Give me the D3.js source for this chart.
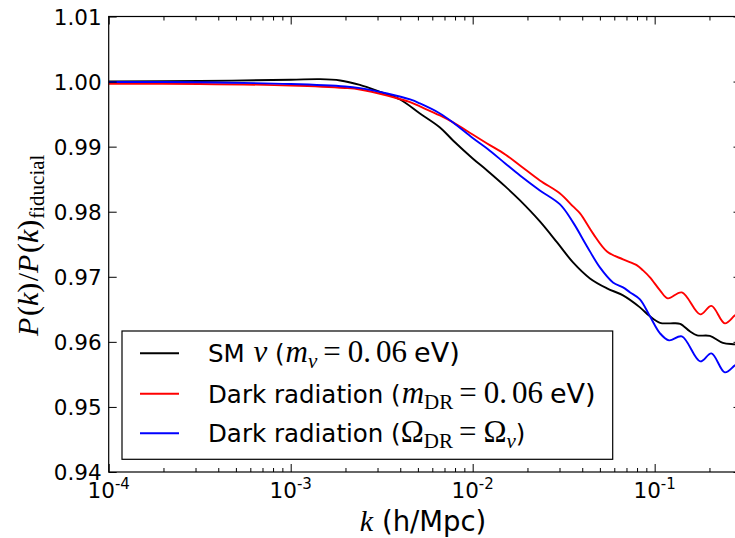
<!DOCTYPE html>
<html><head><meta charset="utf-8">
<script src="https://cdn.jsdelivr.net/npm/d3@7"></script>
<style>body{margin:0;background:#fff}svg{display:block}</style>
</head><body><svg id="c" width="735" height="538"></svg>
<script>
// ---- data ----
const kBlack = [1e-4, 3.16e-4, 1.00e-3, 1.45e-3, 1.87e-3, 2.40e-3, 3.10e-3, 3.99e-3, 5.13e-3, 6.61e-3, 7.80e-3, 1.00e-2, 1.20e-2, 1.51e-2, 1.82e-2, 2.34e-2, 2.91e-2, 3.56e-2, 4.41e-2, 5.47e-2, 6.70e-2, 8.30e-2, 9.42e-2, 0.107, 0.121, 0.138, 0.156, 0.171, 0.201, 0.237, 0.276, 0.298];
const ratioBlack = [1.00000, 1.00009, 1.00028, 1.00037, 1.00017, 0.99948, 0.99840, 0.99725, 0.99510, 0.99295, 0.99095, 0.98819, 0.98634, 0.98389, 0.98174, 0.97851, 0.97528, 0.97221, 0.96975, 0.96822, 0.96714, 0.96530, 0.96392, 0.96292, 0.96284, 0.96277, 0.96162, 0.96100, 0.96092, 0.95985, 0.95962, 0.95946];

const kRed = [1e-4, 3.16e-4, 1.00e-3, 1.99e-3, 2.40e-3, 3.39e-3, 4.53e-3, 5.13e-3, 6.61e-3, 7.80e-3, 1.00e-2, 1.20e-2, 1.51e-2, 1.82e-2, 2.34e-2, 3.02e-2, 3.56e-2, 3.89e-2, 4.58e-2, 5.47e-2, 6.70e-2, 8.00e-2, 8.63e-2, 9.42e-2, 0.107, 0.118, 0.141, 0.178, 0.205, 0.243, 0.276, 0.298];
const ratioRed = [0.99966, 0.99963, 0.99940, 0.99902, 0.99879, 0.99786, 0.99684, 0.99618, 0.99479, 0.99372, 0.99187, 0.99049, 0.98880, 0.98711, 0.98481, 0.98281, 0.98081, 0.97974, 0.97667, 0.97390, 0.97267, 0.97175, 0.97098, 0.96991, 0.96791, 0.96668, 0.96760, 0.96422, 0.96553, 0.96284, 0.96407, 0.96469];

const kBlue = [1e-4, 3.16e-4, 1.00e-3, 1.99e-3, 2.40e-3, 3.39e-3, 4.53e-3, 5.13e-3, 6.61e-3, 7.80e-3, 1.00e-2, 1.20e-2, 1.51e-2, 1.82e-2, 2.34e-2, 3.02e-2, 3.56e-2, 4.25e-2, 5.00e-2, 5.90e-2, 6.70e-2, 7.33e-2, 8.30e-2, 9.42e-2, 0.107, 0.120, 0.141, 0.178, 0.205, 0.243, 0.276, 0.298];
const ratioBlue = [0.99994, 0.99989, 0.99963, 0.99925, 0.99899, 0.99817, 0.99725, 0.99664, 0.99510, 0.99372, 0.99133, 0.98972, 0.98742, 0.98557, 0.98327, 0.98112, 0.97836, 0.97467, 0.97144, 0.96914, 0.96837, 0.96760, 0.96653, 0.96392, 0.96131, 0.96023, 0.96084, 0.95700, 0.95823, 0.95531, 0.95639, 0.95700];

const yTicks = [0.94, 0.95, 0.96, 0.97, 0.98, 0.99, 1.00, 1.01];
const yTickLabels = ["0.94", "0.95", "0.96", "0.97", "0.98", "0.99", "1.00", "1.01"];
const xTicks = [1e-4, 1e-3, 1e-2, 1e-1];
const xTickBase = ["10", "10", "10", "10"];
const xTickExp = ["-4", "-3", "-2", "-1"];
const xMinorTicks = [2e-4,3e-4,4e-4,5e-4,6e-4,7e-4,8e-4,9e-4,2e-3,3e-3,4e-3,5e-3,6e-3,7e-3,8e-3,9e-3,2e-2,3e-2,4e-2,5e-2,6e-2,7e-2,8e-2,9e-2,2e-1,3e-1];

const seriesColors = ["#000000", "#ff0000", "#0000ff"];
// legend labels: [text, kind]
const legendSegs = [
  [["SM ", "sans"], ["ν", "it"], [" (", "sans"], ["m", "it"], ["ν", "itsub"], ["=", "rel"], ["0.", "rm"], ["06", "rmgap"], ["eV)", "unit"]],
  [["Dark radiation (", "sans"], ["m", "it"], ["DR", "sub"], ["=", "rel"], ["0.", "rm"], ["06", "rmgap"], ["eV)", "unit"]],
  [["Dark radiation (", "sans"], ["Ω", "rmfirst"], ["DR", "sub"], ["=", "rel"], ["Ω", "rm"], ["ν", "itsub"], [")", "sans"]]
];

// ---- drawing ----
const SANS = "'DejaVu Sans', sans-serif";
const SERIF = "'Liberation Serif', 'DejaVu Serif', serif";
const svg = d3.select("#c");
const L = 108.7, R = 741.5, T = 16.5, B = 472;
const x = d3.scaleLog().domain([1e-4, 0.3]).range([L, R]);
const y = d3.scaleLinear().domain([0.94, 1.01]).range([B, T]);

svg.append("defs").append("clipPath").attr("id", "clip")
  .append("rect").attr("x", L).attr("y", T).attr("width", R - L).attr("height", B - T);

const series = [
  {k: kBlack, v: ratioBlack, color: seriesColors[0]},
  {k: kRed, v: ratioRed, color: seriesColors[1]},
  {k: kBlue, v: ratioBlue, color: seriesColors[2]}
];
const line = d3.line().x(d => x(d[0])).y(d => y(d[1])).curve(d3.curveCatmullRom.alpha(0.5));
const gLines = svg.append("g").attr("clip-path", "url(#clip)");
series.forEach(s => {
  gLines.append("path").datum(s.k.map((k, j) => [k, s.v[j]]))
    .attr("d", line).attr("fill", "none").attr("stroke", s.color).attr("stroke-width", 1.9);
});

// axes
function styleAxis(g) {
  g.select(".domain").remove();
  g.selectAll("line").attr("stroke", "#000").attr("stroke-width", 1);
}
svg.append("g").attr("transform", `translate(${L},0)`)
  .call(d3.axisLeft(y).tickValues(yTicks).tickFormat((d, i) => yTickLabels[i]).tickSize(-8).tickPadding(7))
  .call(styleAxis)
  .call(g => g.selectAll("text").attr("font-family", SANS).attr("font-size", 21.5).attr("fill", "#000").attr("dy", "0.36em"));
svg.append("g").attr("transform", `translate(${R},0)`)
  .call(d3.axisRight(y).tickValues(yTicks).tickFormat("").tickSize(-8))
  .call(styleAxis);
svg.append("g").attr("transform", `translate(0,${B})`)
  .call(d3.axisBottom(x).tickValues(xTicks).tickFormat("").tickSize(-8))
  .call(styleAxis);
svg.append("g").attr("transform", `translate(0,${B})`)
  .call(d3.axisBottom(x).tickValues(xMinorTicks).tickFormat("").tickSize(-4))
  .call(styleAxis);
svg.append("g").attr("transform", `translate(0,${T})`)
  .call(d3.axisTop(x).tickValues(xTicks).tickFormat("").tickSize(-8))
  .call(styleAxis);
svg.append("g").attr("transform", `translate(0,${T})`)
  .call(d3.axisTop(x).tickValues(xMinorTicks).tickFormat("").tickSize(-4))
  .call(styleAxis);

// x tick labels with superscripts
const xl = svg.append("g");
xTicks.forEach((t, i) => {
  const txt = xl.append("text").attr("x", x(t)).attr("y", B + 26)
    .attr("text-anchor", "middle").attr("font-family", SANS).attr("font-size", 21.5).attr("fill", "#000");
  txt.append("tspan").text(xTickBase[i]);
  txt.append("tspan").attr("font-size", 15).attr("dy", -9).text(xTickExp[i]);
});

// frame
svg.append("rect").attr("x", L).attr("y", T).attr("width", R - L).attr("height", B - T)
  .attr("fill", "none").attr("stroke", "#000").attr("stroke-width", 1.2);

// x label
const xlab = svg.append("text").attr("x", (L + R) / 2 - 2).attr("y", 531).attr("text-anchor", "middle").attr("fill", "#000");
xlab.append("tspan").attr("font-family", SERIF).attr("font-style", "italic").attr("font-size", 30).text("k");
xlab.append("tspan").attr("font-family", SANS).attr("font-size", 27.5).text(" (h/Mpc)");

// y label
const ylab = svg.append("text").attr("transform", `translate(38,${(T + B) / 2 + 1}) rotate(-90)`)
  .attr("text-anchor", "middle").attr("font-family", SERIF).attr("font-size", 30).attr("fill", "#000");
[["P", 1], ["(", 0], ["k", 1], [")", 0], ["/", 0], ["P", 1], ["(", 0], ["k", 1], [")", 0]].forEach(([s, it]) => {
  const sp = ylab.append("tspan").text(s);
  if (it) sp.attr("font-style", "italic");
  if (s === "/" || s === "(") sp.attr("dx", 1.5);
});
ylab.append("tspan").attr("font-size", 21).attr("dy", 6).attr("dx", 1).text("fiducial");

// legend
const lg = svg.append("g");
lg.append("rect").attr("x", 122).attr("y", 331).attr("width", 490.7).attr("height", 128.3)
  .attr("fill", "#fff").attr("stroke", "#000").attr("stroke-width", 1.2);
const rowsY = [353.3, 393.7, 433.3];
legendSegs.forEach((segs, i) => {
  lg.append("line").attr("x1", 140).attr("x2", 179).attr("y1", rowsY[i]).attr("y2", rowsY[i])
    .attr("stroke", seriesColors[i]).attr("stroke-width", 1.9);
  const t = lg.append("text").attr("x", 208).attr("y", rowsY[i] + 9).attr("fill", "#000").attr("font-size", 24.5);
  let shifted = false;
  segs.forEach(([s, kind]) => {
    const sp = t.append("tspan").text(s);
    let dy = 0;
    if (kind === "sans") sp.attr("font-family", SANS);
    else if (kind === "unit") sp.attr("font-family", SANS).attr("font-size", 27).attr("dx", 7);
    else sp.attr("font-family", SERIF).attr("font-size", 31);
    if (kind === "it" || kind === "itsub") sp.attr("font-style", "italic").attr("dx", kind === "it" ? 1 : 0);
    if (kind === "rel") sp.attr("dx", 6);
    if (kind === "rm") sp.attr("dx", 7);
    if (kind === "rmgap") sp.attr("dx", 5);
    if (kind === "sub" || kind === "itsub") { sp.attr("font-size", 21); dy = 6; }
    if (dy && !shifted) { sp.attr("dy", dy); shifted = true; }
    else if (!dy && shifted) { sp.attr("dy", -6); shifted = false; }
  });
});
</script>
</body></html>
